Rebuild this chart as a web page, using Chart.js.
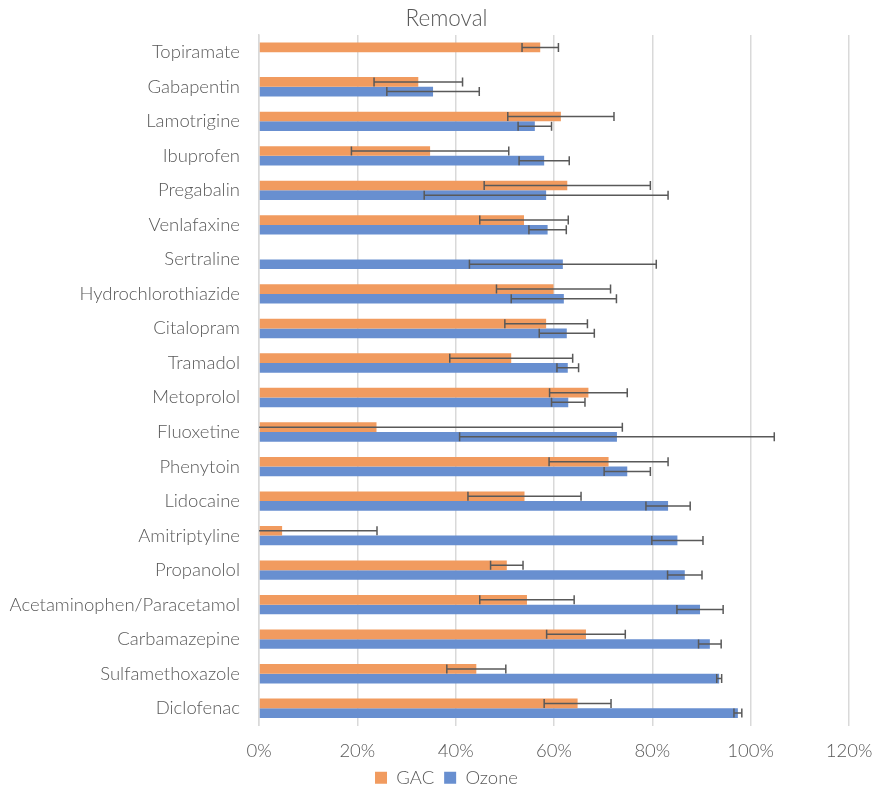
<!DOCTYPE html>
<html>
<head>
<meta charset="utf-8">
<title>Removal</title>
<script src="https://cdn.jsdelivr.net/npm/chart.js@4/dist/chart.umd.min.js"></script>
<style>
  html, body { margin: 0; padding: 0; background: #fff; }
  #wrap { width: 874px; height: 785px; position: relative; }
</style>
</head>
<body>
<div id="wrap"><canvas id="chart"></canvas></div>
<script>
// Categories, top to bottom
const compounds = [
    'Topiramate', 'Gabapentin', 'Lamotrigine', 'Ibuprofen', 'Pregabalin',
    'Venlafaxine', 'Sertraline', 'Hydrochlorothiazide', 'Citalopram', 'Tramadol',
    'Metoprolol', 'Fluoxetine', 'Phenytoin', 'Lidocaine', 'Amitriptyline',
    'Propanolol', 'Acetaminophen/Paracetamol', 'Carbamazepine', 'Sulfamethoxazole', 'Diclofenac'
];

// Removal (%) and error (±%)
const gacValues = [57.2, 32.4, 61.4, 34.8, 62.7, 53.9, null, 59.9, 58.4, 51.3,
    67.0, 23.9, 71.1, 54.0, 4.7, 50.4, 54.5, 66.5, 44.2, 64.8];
const gacErrors = [3.7, 9.0, 10.8, 16.0, 16.9, 9.0, null, 11.6, 8.4, 12.5,
    7.9, 50.0, 12.1, 11.5, 19.3, 3.3, 9.6, 8.0, 6.0, 6.8];

const ozoneValues = [null, 35.4, 56.1, 58.0, 58.4, 58.7, 61.8, 62.0, 62.6, 62.8,
    62.9, 72.8, 74.9, 83.2, 85.1, 86.6, 89.7, 91.7, 93.6, 97.4];
const ozoneErrors = [null, 9.4, 3.4, 5.1, 24.8, 3.8, 19.0, 10.7, 5.6, 2.2,
    3.4, 32.0, 4.7, 4.5, 5.2, 3.5, 4.7, 2.3, 0.5, 0.8];

const xTicks = [0, 20, 40, 60, 80, 100, 120];

const textColor = '#595959';
const fontFamily = "Lato, 'Open Sans', sans-serif";
const labelFont = { family: fontFamily, size: 18.5, weight: 300 };

// Error bars drawn with the chart's own scales
const errorBarPlugin = {
    id: 'errorBars',
    afterDatasetsDraw(chart) {
        const ctx = chart.ctx;
        const xScale = chart.scales.x;
        const area = chart.chartArea;
        ctx.save();
        ctx.strokeStyle = '#595959';
        ctx.lineWidth = 1.5;
        chart.data.datasets.forEach((ds, di) => {
            const meta = chart.getDatasetMeta(di);
            meta.data.forEach((bar, i) => {
                const v = ds.data[i];
                const e = ds.errors[i];
                if (v == null || e == null) return;
                let lo = xScale.getPixelForValue(v - e);
                let hi = xScale.getPixelForValue(v + e);
                const loClipped = lo < area.left;
                if (loClipped) lo = area.left;
                const y = bar.y;
                const cap = 4.5;
                ctx.beginPath();
                ctx.moveTo(lo, y);
                ctx.lineTo(hi, y);
                if (!loClipped) {
                    ctx.moveTo(lo, y - cap);
                    ctx.lineTo(lo, y + cap);
                }
                ctx.moveTo(hi, y - cap);
                ctx.lineTo(hi, y + cap);
                ctx.stroke();
            });
        });
        ctx.restore();
    }
};

// Title and legend sit a bit right of the canvas centre in the original
const shiftHeaderPlugin = {
    id: 'shiftHeader',
    beforeDraw(chart) {
        const dx = 22;
        [chart.titleBlock, chart.legend].forEach(box => {
            if (box && !box._shifted) {
                box.left += dx;
                box.right += dx;
                box._shifted = true;
            }
        });
    }
};

const ctx = document.getElementById('chart').getContext('2d');
new Chart(ctx, {
    type: 'bar',
    data: {
        labels: compounds,
        datasets: [
            {
                label: 'GAC',
                data: gacValues,
                errors: gacErrors,
                backgroundColor: 'rgb(241, 155, 95)',
                borderWidth: 0
            },
            {
                label: 'Ozone',
                data: ozoneValues,
                errors: ozoneErrors,
                backgroundColor: 'rgb(104, 143, 208)',
                borderWidth: 0
            }
        ]
    },
    options: {
        indexAxis: 'y',
        responsive: true,
        maintainAspectRatio: false,
        animation: false,
        datasets: {
            bar: { barPercentage: 1.0, categoryPercentage: 0.56 }
        },
        layout: { padding: { left: 0, right: 25, top: 5, bottom: -12 } },
        plugins: {
            title: {
                display: true,
                text: 'Removal',
                color: textColor,
                font: { family: fontFamily, size: 22.5, weight: 300 },
                padding: { top: 0, bottom: 3 }
            },
            legend: {
                position: 'bottom',
                labels: {
                    color: textColor,
                    font: labelFont,
                    boxWidth: 12,
                    boxHeight: 12,
                    padding: 10
                }
            },
            tooltip: { enabled: false }
        },
        scales: {
            x: {
                min: 0,
                max: 120,
                afterBuildTicks(scale) {
                    scale.ticks = xTicks.map(v => ({ value: v }));
                },
                afterFit(scale) {
                    scale.paddingLeft = 0;
                    scale.paddingRight = 0;
                    scale.height = 33;
                },
                ticks: {
                    color: textColor,
                    font: labelFont,
                    padding: 14,
                    callback: (v) => v + '%'
                },
                grid: { color: '#d9d9d9', lineWidth: 1.5, drawTicks: false },
                border: { display: false }
            },
            y: {
                afterFit(scale) { scale.width = 259; },
                ticks: {
                    color: textColor,
                    font: labelFont,
                    padding: 19,
                    autoSkip: false
                },
                grid: { display: false, drawTicks: false },
                border: { display: true, color: '#d9d9d9', width: 1.5 }
            }
        }
    },
    plugins: [errorBarPlugin, shiftHeaderPlugin]
});
</script>
</body>
</html>
